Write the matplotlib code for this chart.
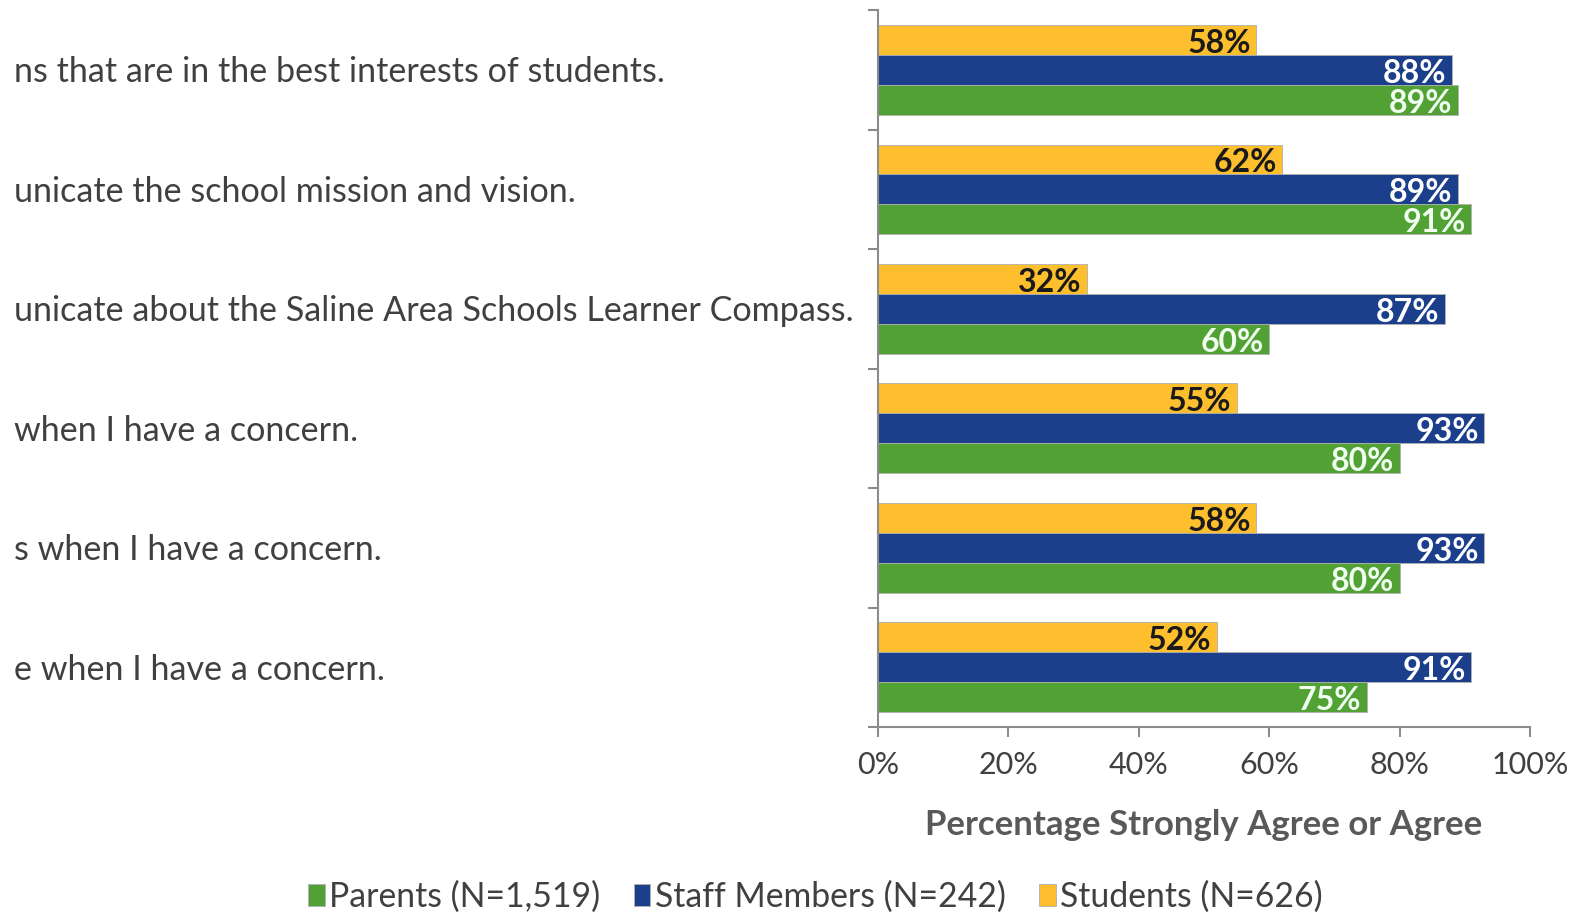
import numpy as np
import matplotlib
matplotlib.use("Agg")
import matplotlib.pyplot as plt
from matplotlib.transforms import blended_transform_factory

plt.rcParams['font.family'] = ['Lato', 'DejaVu Sans']

statements = [
    "ns that are in the best interests of students.",
    "unicate the school mission and vision.",
    "unicate about the Saline Area Schools Learner Compass.",
    "when I have a concern.",
    "s when I have a concern.",
    "e when I have a concern.",
]
students = [58, 62, 32, 55, 58, 52]
staff = [88, 89, 87, 93, 93, 91]
parents = [89, 91, 60, 80, 80, 75]

series = [
    ("Students (N=626)", students, "#FDBF2D", "#1a1a1a", -0.25),
    ("Staff Members (N=242)", staff, "#1B3F8B", "white", 0.0),
    ("Parents (N=1,519)", parents, "#52A135", "#f0fff0", 0.25),
]

fig = plt.figure(figsize=(15.83, 9.17), dpi=100)
ax = fig.add_axes([0.5546, 0.2072, 0.4119, 0.7818])

y = np.arange(len(statements))
bars = {}
for name, vals, col, tcol, off in series:
    b = ax.barh(y + off, vals, height=0.25, color=col, edgecolor="#b0b0b0",
                linewidth=0.6, label=name)
    bars[name] = b
    for rect, v in zip(b, vals):
        ax.annotate(f"{v}%", (rect.get_width(), rect.get_y() + rect.get_height() / 2),
                    xytext=(-4, -2.5), textcoords="offset points", ha="right", va="center",
                    fontsize=23, color=tcol, fontweight="bold")

ax.set_xlim(0, 100)
ax.set_ylim(len(statements) - 0.5, -0.5)
ax.set_xticks(np.arange(0, 101, 20))
ax.set_xticklabels([f"{t}%" for t in range(0, 101, 20)], fontsize=22, color="#404040")
ax.set_yticks(np.arange(-0.5, len(statements), 1.0))
ax.set_yticklabels([])
ax.tick_params(axis="both", direction="out", length=7, width=1.5, color="#8c8c8c")
ax.tick_params(axis="x", pad=10)
for s in ["top", "right"]:
    ax.spines[s].set_visible(False)
for s in ["left", "bottom"]:
    ax.spines[s].set_color("#8c8c8c")
    ax.spines[s].set_linewidth(1.5)

ax.set_xlabel("Percentage Strongly Agree or Agree", fontsize=25, fontweight="bold",
              color="#595959", labelpad=22)

tr = blended_transform_factory(fig.transFigure, ax.transData)
for i, s in enumerate(statements):
    ax.text(0.009, i + 0.02, s, transform=tr, ha="left", va="center", fontsize=24.6,
            color="#404040", clip_on=False)

handles = [bars["Parents (N=1,519)"], bars["Staff Members (N=242)"], bars["Students (N=626)"]]
labels = ["Parents (N=1,519)", "Staff Members (N=242)", "Students (N=626)"]
leg = fig.legend(handles, labels, loc="center", bbox_to_anchor=(0.515, 0.022), ncol=3,
                 frameon=False, fontsize=24.3, handlelength=0.5, handleheight=0.6,
                 handletextpad=0.12, columnspacing=1.0)
for t in leg.get_texts():
    t.set_color("#404040")

fig.savefig("out.png", dpi=100)
